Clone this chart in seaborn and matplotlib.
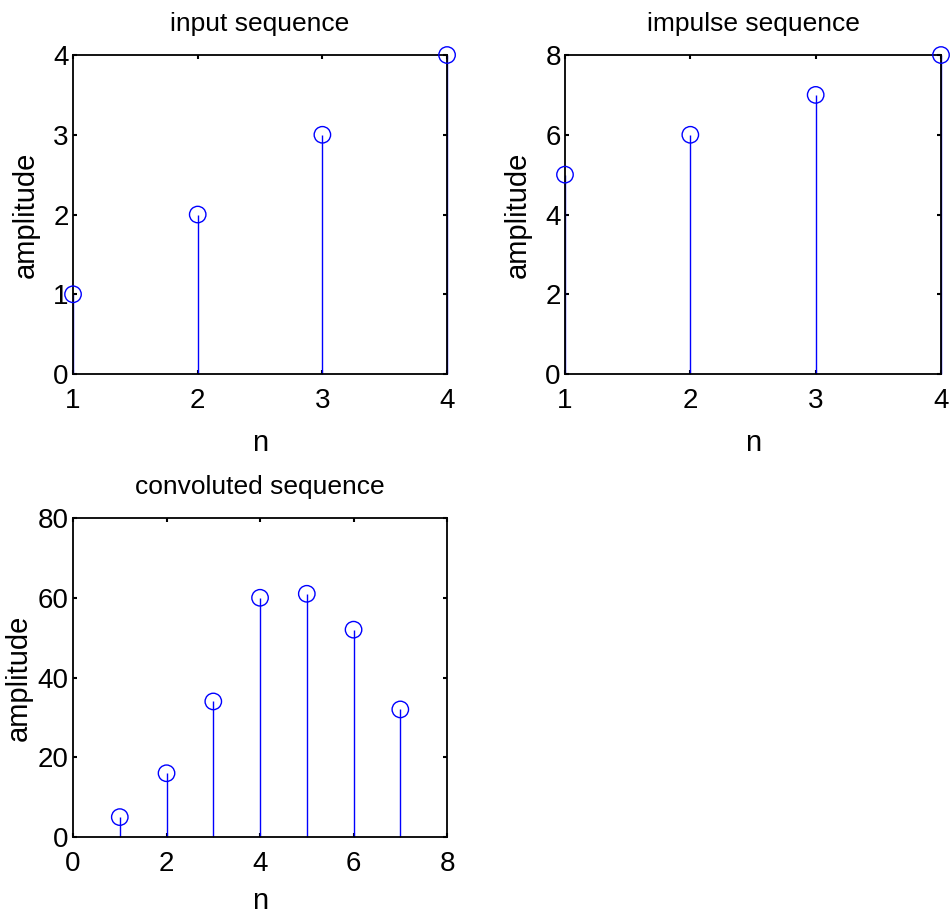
import numpy as np
import pandas as pd
import seaborn as sns
import matplotlib.pyplot as plt

# sequences
nInput = [1, 2, 3, 4]
xInput = [1, 2, 3, 4]
nImpulse = [1, 2, 3, 4]
hImpulse = [5, 6, 7, 8]
nConv = [1, 2, 3, 4, 5, 6, 7]
yConv = [5, 16, 34, 60, 61, 52, 32]

sns.set_theme(style="ticks")
plt.rcParams['font.family'] = ['Liberation Sans', 'DejaVu Sans']
plt.rcParams['text.color'] = 'black'
plt.rcParams['axes.labelcolor'] = 'black'
plt.rcParams['xtick.color'] = 'black'
plt.rcParams['ytick.color'] = 'black'

fig = plt.figure(figsize=(9.51, 9.17), dpi=100)
ax1 = fig.add_axes([0.0768, 0.5921, 0.3933, 0.3479])
ax2 = fig.add_axes([0.5941, 0.5921, 0.3954, 0.3479])
ax3 = fig.add_axes([0.0768, 0.0872, 0.3933, 0.3479])


def stemPlot(ax, n, vals, title, xlim, xticks, ylim, yticks, xpad=11, ypad=10):
    df = pd.DataFrame({'n': n, 'amp': vals})
    ax.vlines(df['n'], 0, df['amp'], color='#0000ff', linewidth=1, clip_on=False, zorder=2)
    sns.scatterplot(data=df, x='n', y='amp', ax=ax, marker='o', s=140,
                    facecolor='none', edgecolor='#0000ff', linewidth=1,
                    clip_on=False, zorder=3)
    ax.set_xlim(*xlim)
    ax.set_ylim(*ylim)
    ax.set_xticks(xticks)
    ax.set_yticks(yticks)
    ax.set_title(title, fontsize=19, pad=17)
    ax.set_xlabel('n', fontsize=21, labelpad=xpad)
    ax.set_ylabel('amplitude', fontsize=21, labelpad=ypad)
    ax.tick_params(direction='in', length=3, width=1.5, labelsize=20,
                   top=True, right=True, color='black')
    ax.tick_params(axis='x', pad=10)
    ax.tick_params(axis='y', pad=3)
    for sp in ax.spines.values():
        sp.set_color('black')
        sp.set_linewidth(1.3)
        sp.set_visible(True)


stemPlot(ax1, nInput, xInput, 'input sequence', (1, 4), [1, 2, 3, 4], (0, 4), [0, 1, 2, 3, 4])
stemPlot(ax2, nImpulse, hImpulse, 'impulse sequence', (1, 4), [1, 2, 3, 4], (0, 8), [0, 2, 4, 6, 8])
stemPlot(ax3, nConv, yConv, 'convoluted sequence', (0, 8), [0, 2, 4, 6, 8], (0, 80), [0, 20, 40, 60, 80],
         xpad=7, ypad=4)

fig.savefig('out.png', dpi=100)
